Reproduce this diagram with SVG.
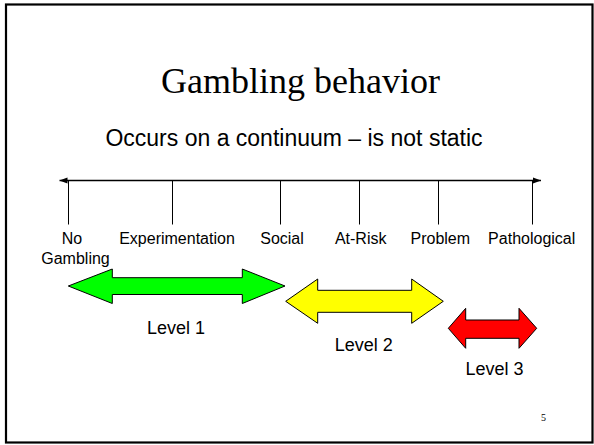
<svg xmlns="http://www.w3.org/2000/svg" width="594" height="445" viewBox="0 0 594 445">
<style>
.lbl{font-family:"Liberation Sans",Arial,sans-serif;font-size:16px;fill:#000;text-anchor:middle}
.lvl{font-family:"Liberation Sans",Arial,sans-serif;font-size:18px;fill:#000;text-anchor:middle}
.tick{stroke:#000;stroke-width:1}
.dbl{stroke:#000;stroke-width:1}
</style>
<defs>
<marker id="ah" viewBox="0 0 8 8" refX="8" refY="4" markerWidth="8" markerHeight="8" markerUnits="userSpaceOnUse" orient="auto-start-reverse">
<path d="M0,1 L8,4 L0,7 Z" fill="#000"/>
</marker>
</defs>
<rect x="0" y="0" width="594" height="445" fill="#fff"/>
<rect x="6" y="4.5" width="586.5" height="438" fill="none" stroke="#000" stroke-width="2.2"/>
<g id="title">
<text x="300.5" y="93" font-family="'Liberation Serif','Times New Roman',serif" font-size="36" text-anchor="middle" fill="#000">Gambling behavior</text>
</g>
<g id="subtitle">
<text x="294" y="145.5" font-family="'Liberation Sans',Arial,sans-serif" font-size="23" text-anchor="middle" fill="#000">Occurs on a continuum – is not static</text>
</g>
<g id="connectors">
<line x1="59.5" y1="180.5" x2="541" y2="180.5" stroke="#000" stroke-width="1.3" marker-start="url(#ah)" marker-end="url(#ah)"/>
<line class="tick" x1="68.5" y1="180.5" x2="68.5" y2="224.5"/>
<line class="tick" x1="172.5" y1="180.5" x2="172.5" y2="224.5"/>
<line class="tick" x1="280.5" y1="180.5" x2="280.5" y2="224.5"/>
<line class="tick" x1="359.5" y1="180.5" x2="359.5" y2="224.5"/>
<line class="tick" x1="438.5" y1="180.5" x2="438.5" y2="224.5"/>
<line class="tick" x1="532.5" y1="180.5" x2="532.5" y2="224.5"/>
</g>
<g id="no-gambling"><text class="lbl" x="72"  y="244">No</text><text class="lbl" x="75.5" y="264">Gambling</text></g>
<g id="experimentation"><text class="lbl" x="177" y="244">Experimentation</text></g>
<g id="social"><text class="lbl" x="282" y="244">Social</text></g>
<g id="at-risk"><text class="lbl" x="360.7" y="244">At-Risk</text></g>
<g id="problem"><text class="lbl" x="440.3" y="244">Problem</text></g>
<g id="pathological"><text class="lbl" x="531.7" y="244">Pathological</text></g>
<g id="level1">
<path class="dbl" fill="#00ff00" d="M68.3,286 L112.3,269 L112.3,277.7 L242.3,277.7 L242.3,269 L285,286 L242.3,303.5 L242.3,294.5 L112.3,294.5 L112.3,303.5 Z"/>
<text class="lvl" x="176" y="334">Level 1</text>
</g>
<g id="level2">
<path class="dbl" fill="#ffff00" d="M285.7,301.3 L317.7,279 L317.7,290.3 L411.7,290.3 L411.7,279 L443.3,301.3 L411.7,323.3 L411.7,312.3 L317.7,312.3 L317.7,323.3 Z"/>
<text class="lvl" x="363.7" y="350.5">Level 2</text>
</g>
<g id="level3">
<path class="dbl" fill="#ff0000" d="M448.3,328.3 L465.7,308.3 L465.7,320 L519,320 L519,308.3 L536.7,328.3 L519,348.3 L519,338.3 L465.7,338.3 L465.7,348.3 Z"/>
<text class="lvl" x="494.5" y="375">Level 3</text>
</g>
<g id="page-number">
<text x="543.5" y="421" font-family="'Liberation Serif','Times New Roman',serif" font-size="10" text-anchor="middle" fill="#000">5</text>
</g>
</svg>
